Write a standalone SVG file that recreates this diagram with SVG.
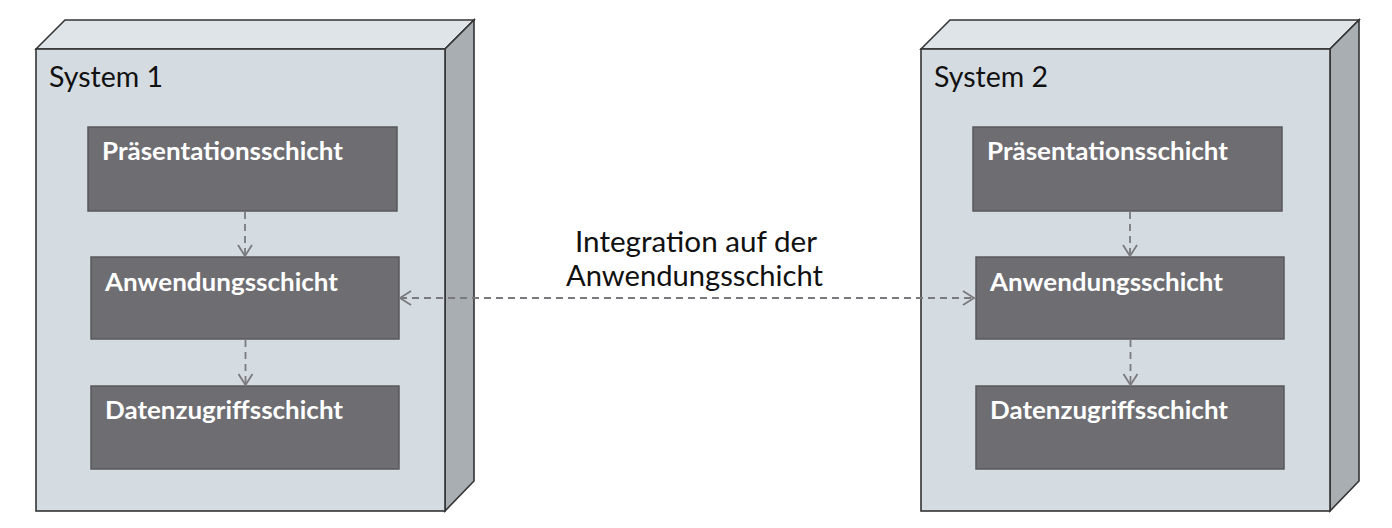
<svg xmlns="http://www.w3.org/2000/svg" width="1392" height="528" viewBox="0 0 1392 528">
<style>
.front{fill:#d5dce1;stroke:#333333;stroke-width:1.6;stroke-linejoin:miter}
.top{fill:#dfe4e8;stroke:#333333;stroke-width:1.6;stroke-linejoin:miter}
.side{fill:#a9aeb2;stroke:#333333;stroke-width:1.6;stroke-linejoin:miter}
.layer{fill:#6e6d72;stroke:#58585c;stroke-width:1.5}
.sys{font-family:Lato,"Open Sans","Liberation Sans",sans-serif;font-size:28px;fill:#111111}
.lt{font-family:Lato,"Open Sans","Liberation Sans",sans-serif;font-size:25.5px;font-weight:700;fill:#ffffff}
.mid{font-family:Lato,"Open Sans","Liberation Sans",sans-serif;font-size:28px;fill:#111111}
.con{fill:none;stroke:#7a7a7e;stroke-width:1.8;stroke-dasharray:7 5}
</style>
<defs>
<marker id="arr" markerUnits="userSpaceOnUse" markerWidth="18" markerHeight="18" refX="12" refY="8" orient="auto-start-reverse" overflow="visible">
<path d="M1,1 L12,8 L1,15" fill="none" stroke="#7a7a7e" stroke-width="1.8"/>
</marker>
</defs>
<rect width="1392" height="528" fill="#ffffff"/>

<g id="system1">
<polygon class="top" points="36,49 65,20 474,20 445,49"/>
<polygon class="side" points="445,49 474,20 474,481 445,511"/>
<rect class="front" x="36" y="49" width="409" height="462"/>
<text class="sys" x="49" y="87" textLength="114" lengthAdjust="spacingAndGlyphs">System 1</text>
</g>
<g id="s1-praesentation">
<rect class="layer" x="88" y="127" width="309" height="84"/>
<text class="lt" x="102" y="160" textLength="241" lengthAdjust="spacingAndGlyphs">Präsentationsschicht</text>
</g>
<g id="s1-anwendung">
<rect class="layer" x="91" y="257" width="308" height="82"/>
<text class="lt" x="105" y="291" textLength="233" lengthAdjust="spacingAndGlyphs">Anwendungsschicht</text>
</g>
<g id="s1-daten">
<rect class="layer" x="91" y="386" width="308" height="83"/>
<text class="lt" x="105" y="419" textLength="238" lengthAdjust="spacingAndGlyphs">Datenzugriffsschicht</text>
</g>

<g id="system2">
<polygon class="top" points="921,49 950,20 1359,20 1330,49"/>
<polygon class="side" points="1330,49 1359,20 1359,481 1330,511"/>
<rect class="front" x="921" y="49" width="409" height="462"/>
<text class="sys" x="934" y="87" textLength="114" lengthAdjust="spacingAndGlyphs">System 2</text>
</g>
<g id="s2-praesentation">
<rect class="layer" x="973" y="127" width="309" height="84"/>
<text class="lt" x="987" y="160" textLength="241" lengthAdjust="spacingAndGlyphs">Präsentationsschicht</text>
</g>
<g id="s2-anwendung">
<rect class="layer" x="976" y="257" width="308" height="82"/>
<text class="lt" x="990" y="291" textLength="233" lengthAdjust="spacingAndGlyphs">Anwendungsschicht</text>
</g>
<g id="s2-daten">
<rect class="layer" x="976" y="386" width="308" height="83"/>
<text class="lt" x="990" y="419" textLength="238" lengthAdjust="spacingAndGlyphs">Datenzugriffsschicht</text>
</g>

<g id="connectors">
<line class="con" x1="245" y1="212" x2="245" y2="256" marker-end="url(#arr)"/>
<line class="con" x1="245.5" y1="340" x2="245.5" y2="385" marker-end="url(#arr)"/>
<line class="con" x1="1130" y1="212" x2="1130" y2="256" marker-end="url(#arr)"/>
<line class="con" x1="1130.5" y1="340" x2="1130.5" y2="385" marker-end="url(#arr)"/>
<line class="con" x1="400" y1="298" x2="974" y2="298" marker-start="url(#arr)" marker-end="url(#arr)"/>
</g>
<g id="integration-label">
<text class="mid" x="575" y="252" textLength="242" lengthAdjust="spacingAndGlyphs">Integration auf der</text>
<text class="mid" x="566" y="286" textLength="257" lengthAdjust="spacingAndGlyphs">Anwendungsschicht</text>
</g>
</svg>
